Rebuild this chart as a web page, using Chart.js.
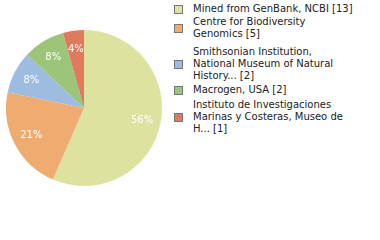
<!DOCTYPE html>
<html lang="en">
<head>
<meta charset="UTF-8" />
<title>Specimen sources</title>
<script src="https://cdn.jsdelivr.net/npm/chart.js"></script>
<style>
  html,body{margin:0;padding:0;background:#fff;}
  body{width:380px;height:240px;position:relative;overflow:hidden;font-family:'DejaVu Sans',sans-serif;}
  #pieBox{position:absolute;left:0;top:0;width:168px;height:216px;}
  #legend{position:absolute;left:174px;top:3px;width:206px;font-size:10px;line-height:12px;color:#222;}
  .item{display:flex;align-items:center;margin-bottom:3px;}
  .item:nth-child(1){margin-bottom:1px;}
  .item:nth-child(2){margin-bottom:6px;}
  .item:nth-child(3){margin-bottom:2px;}
  .sw{width:7px;height:7px;border:1px solid #777;margin-right:10px;flex:none;}
</style>
</head>
<body>
<div id="pieBox"><canvas id="pie"></canvas></div>
<div id="legend"></div>

<script>
/* ---------- data ---------- */
const labels = [
  ['Mined from GenBank, NCBI [13]'],
  ['Centre for Biodiversity', 'Genomics [5]'],
  ['Smithsonian Institution,', 'National Museum of Natural', 'History... [2]'],
  ['Macrogen, USA [2]'],
  ['Instituto de Investigaciones', 'Marinas y Costeras, Museo de', 'H... [1]']
];
const counts = [13, 5, 2, 2, 1];
const colors = ['#dde39e', '#efac70', '#9ebbe0', '#9cc57a', '#df7a5f'];

/* ---------- percent labels drawn on the slices ---------- */
const pctLabels = {
  id:'pctLabels',
  afterDatasetsDraw(chart){
    const {ctx} = chart;
    const meta = chart.getDatasetMeta(0);
    const total = counts.reduce((a,b)=>a+b,0);
    ctx.save();
    ctx.fillStyle = '#fff';
    ctx.font = '10px "DejaVu Sans", sans-serif';
    ctx.textAlign = 'center';
    ctx.textBaseline = 'middle';
    meta.data.forEach((arc,i)=>{
      const mid = (arc.startAngle + arc.endAngle)/2;
      const r = arc.outerRadius*0.76;
      const pct = Math.floor(counts[i]/total*100);
      ctx.fillText(pct+'%', arc.x + Math.cos(mid)*r, arc.y + Math.sin(mid)*r);
    });
    ctx.restore();
  }
};

new Chart(document.getElementById('pie'),{
  type:'pie',
  data:{
    labels: labels.map(l=>l.join(' ')),
    datasets:[{data:counts, backgroundColor:colors, borderWidth:0}]
  },
  options:{
    responsive:true, maintainAspectRatio:false, animation:false,
    layout:{padding:6},
    plugins:{legend:{display:false}, tooltip:{enabled:false}}
  },
  plugins:[pctLabels]
});

/* ---------- legend ---------- */
const legend = document.getElementById('legend');
labels.forEach((lines,i)=>{
  const row = document.createElement('div');
  row.className = 'item';
  row.innerHTML = `<span class="sw" style="background:${colors[i]}"></span><span>${lines.join('<br>')}</span>`;
  legend.appendChild(row);
});
</script>
</body>
</html>
